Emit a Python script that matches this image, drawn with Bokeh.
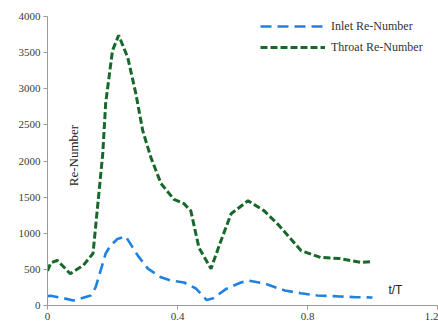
import math
from bokeh.plotting import figure
from bokeh.models import Legend, LegendItem, Label, FixedTicker, Range1d
from bokeh.embed import file_html
from bokeh.resources import INLINE

# Data
throat_t = [0.0, 0.01, 0.03, 0.07, 0.11, 0.14, 0.157, 0.17, 0.179, 0.20, 0.219, 0.247, 0.272,
            0.293, 0.318, 0.349, 0.389, 0.42, 0.441, 0.466, 0.503, 0.534, 0.565, 0.617,
            0.667, 0.713, 0.78, 0.84, 0.90, 0.966, 1.0]
throat_re = [480, 590, 625, 440, 555, 720, 1500, 2100, 2800, 3530, 3740, 3430, 2930,
             2420, 2050, 1690, 1470, 1410, 1310, 800, 510, 900, 1270, 1450,
             1310, 1105, 760, 665, 650, 595, 610]

inlet_t = [0.0, 0.01, 0.05, 0.08, 0.133, 0.148, 0.179, 0.194, 0.215, 0.241, 0.278, 0.309,
           0.349, 0.38, 0.42, 0.457, 0.49, 0.51, 0.55, 0.595, 0.62, 0.67, 0.73, 0.78,
           0.83, 0.90, 0.95, 1.0]
inlet_re = [130, 135, 100, 70, 138, 250, 720, 830, 920, 955, 690, 510,
            390, 345, 318, 235, 75, 100, 230, 318, 345, 300, 208, 170,
            138, 125, 115, 110]

x_ticks = [0, 0.4, 0.8, 1.2]
y_ticks = [0, 500, 1000, 1500, 2000, 2500, 3000, 3500, 4000]

p = figure(width=438, height=325, output_backend="svg", toolbar_location=None,
           x_range=Range1d(0, 1.2), y_range=Range1d(0, 4000),
           min_border_left=47, min_border_right=1, min_border_top=16, min_border_bottom=20)
p.outline_line_color = None
p.grid.visible = False
p.background_fill_color = "white"

for ax in (p.xaxis[0], p.yaxis[0]):
    ax.axis_line_color = "#9a9a9a"
    ax.major_tick_line_color = "#9a9a9a"
    ax.minor_tick_line_color = None
    ax.major_tick_out = 4
    ax.major_tick_in = 0
    ax.major_label_text_font = "Liberation Serif"
    ax.major_label_text_font_size = "11px"
    ax.major_label_text_color = "#3a3a3a"

p.xaxis.ticker = FixedTicker(ticks=x_ticks)
p.yaxis.ticker = FixedTicker(ticks=y_ticks)
p.xaxis.major_label_overrides = {0: "0", 0.4: "0.4", 0.8: "0.8", 1.2: "1.2"}
p.xaxis.major_label_standoff = 3
p.yaxis.major_label_standoff = 3

r_in = p.line(inlet_t, inlet_re, line_color="#1f82e2", line_width=2.6, line_dash="11 6")
r_th = p.line(throat_t, throat_re, line_color="#17692b", line_width=3, line_dash="7 3")

legend = Legend(items=[LegendItem(label="Inlet Re-Number", renderers=[r_in]),
                       LegendItem(label="Throat Re-Number", renderers=[r_th])],
                location=(213, 248), orientation="vertical",
                glyph_width=65, glyph_height=20, label_height=20, spacing=1,
                padding=0, margin=0, label_standoff=6,
                label_text_font="Liberation Serif", label_text_font_size="12px",
                label_text_color="#333333",
                border_line_alpha=0, background_fill_alpha=0)
p.add_layout(legend)

p.add_layout(Label(x=0.08, y=2076, text="Re-Number", angle=math.pi / 2,
                   text_align="center", text_baseline="middle",
                   text_font="Liberation Serif", text_font_size="13px", text_color="#222222"))
p.add_layout(Label(x=1.049, y=208, text="t/T", text_align="left", text_baseline="middle",
                   text_font="Liberation Sans", text_font_size="12px", text_color="#222222"))

open("out.html", "w").write(file_html(p, INLINE))
